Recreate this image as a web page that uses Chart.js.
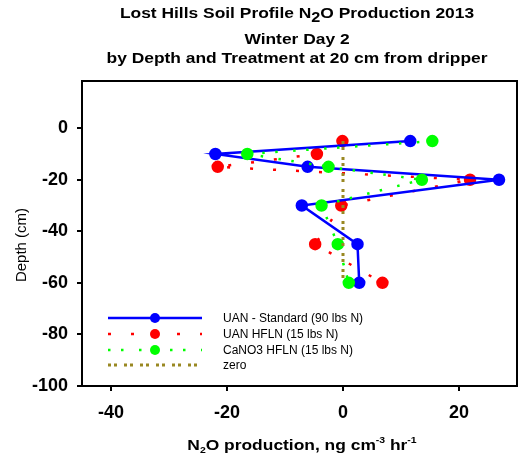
<!DOCTYPE html>
<html>
<head>
<meta charset="utf-8">
<script src="https://cdn.jsdelivr.net/npm/chart.js@4/dist/chart.umd.min.js"></script>
<style>
html, body { margin: 0; padding: 0; background: #fff; }
</style>
</head>
<body>
<canvas id="chartCanvas" width="519" height="460"></canvas>
<script>
// depth of each sampling point (cm)
const depths = [-5, -10, -15, -20, -30, -45, -60];
// N2O production per treatment, ng cm-3 hr-1
const uanStandard = [11.6, -22, -6.1, 26.9, -7.1, 2.5, 2.8];
const uanHfln = [-0.1, -4.5, -21.6, 21.9, -0.3, -4.8, 6.8];
const cano3Hfln = [15.4, -16.5, -2.5, 13.6, -3.7, -0.9, 1.0];
const zeroLine = [0, 0, 0, 0, 0, 0, 0];
const seriesNames = ['UAN - Standard (90 lbs N)', 'UAN HFLN (15 lbs N)', 'CaNO3 HFLN (15 lbs N)', 'zero'];
const xTicks = [-40, -20, 0, 20];
const yTicks = [0, -20, -40, -60, -80, -100];

const FONT = 'Arial, "Liberation Sans", sans-serif';

function toPoints(values) {
    return values.map((v, i) => ({ x: v, y: depths[i] }));
}

const data = {
    datasets: [
        {
            label: seriesNames[0],
            data: toPoints(uanStandard),
            borderColor: 'rgb(0, 0, 255)',
            backgroundColor: 'rgb(0, 0, 255)',
            borderWidth: 2.5,
            pointRadius: 5,
            showLine: true,
            order: 3
        },
        {
            label: seriesNames[1],
            data: toPoints(uanHfln),
            borderColor: 'rgb(255, 0, 0)',
            backgroundColor: 'rgb(255, 0, 0)',
            borderWidth: 2.5,
            borderDash: [3, 20],
            pointRadius: 5,
            showLine: true,
            order: 4
        },
        {
            label: seriesNames[2],
            data: toPoints(cano3Hfln),
            borderColor: 'rgb(0, 255, 0)',
            backgroundColor: 'rgb(0, 255, 0)',
            borderWidth: 2.5,
            borderDash: [2.5, 10.5, 2.5, 15.5],
            pointRadius: 5,
            showLine: true,
            order: 2
        },
        {
            label: seriesNames[3],
            data: toPoints(zeroLine),
            borderColor: 'rgb(153, 136, 34)',
            backgroundColor: 'rgb(153, 136, 34)',
            borderWidth: 3,
            borderDash: [3, 3, 3, 7],
            pointRadius: 0,
            showLine: true,
            order: 1
        }
    ]
};

// draws a line of text made of pieces, some raised or lowered,
// widened by sx like the original picture
function richText(ctx, parts, cx, baseline, sx) {
    let total = 0;
    for (let p of parts) {
        ctx.font = p.font;
        p.w = ctx.measureText(p.t).width;
        total += p.w;
    }
    ctx.save();
    ctx.translate(cx - total * sx / 2, baseline);
    ctx.scale(sx, 1);
    ctx.textAlign = 'left';
    ctx.textBaseline = 'alphabetic';
    let x = 0;
    for (let p of parts) {
        ctx.font = p.font;
        ctx.fillText(p.t, x, p.dy || 0);
        x += p.w;
    }
    ctx.restore();
}

const decorations = {
    id: 'decorations',
    afterDraw(chart) {
        const ctx = chart.ctx;
        const area = chart.chartArea;
        ctx.save();
        ctx.fillStyle = '#000';

        // titles
        const tb = 'bold 15px ' + FONT;
        const cx = 297;
        richText(ctx, [
            { t: 'Lost Hills Soil Profile N', font: tb },
            { t: '2', font: 'bold 14px ' + FONT, dy: 4 },
            { t: 'O Production 2013', font: tb }
        ], cx, 18, 1.16);
        richText(ctx, [{ t: 'Winter Day 2', font: tb }], cx, 44, 1.16);
        richText(ctx, [{ t: 'by Depth and Treatment at 20 cm from dripper', font: tb }], cx, 63, 1.16);

        // x axis title
        const xb = 'bold 15px ' + FONT;
        const xs = 'bold 9px ' + FONT;
        richText(ctx, [
            { t: 'N', font: xb },
            { t: '2', font: xs, dy: 3 },
            { t: 'O production, ng cm', font: xb },
            { t: '-3', font: xs, dy: -7 },
            { t: ' hr', font: xb },
            { t: '-1', font: xs, dy: -7 }
        ], 302, 450, 1.16);

        // y axis title
        ctx.save();
        ctx.translate(26, 245);
        ctx.rotate(-Math.PI / 2);
        ctx.font = '15px ' + FONT;
        ctx.textAlign = 'center';
        ctx.textBaseline = 'alphabetic';
        ctx.fillText('Depth (cm)', 0, 0);
        ctx.restore();

        // frame round the plot
        ctx.strokeStyle = '#000';
        ctx.lineWidth = 2;
        ctx.setLineDash([]);
        ctx.strokeRect(area.left, area.top, area.right - area.left, area.bottom - area.top);

        // legend inside plot
        const rows = [318, 334, 350, 365];
        chart.data.datasets.forEach((d, i) => {
            const y = rows[i];
            ctx.strokeStyle = d.borderColor;
            ctx.lineWidth = d.borderWidth;
            ctx.setLineDash(d.borderDash || []);
            ctx.beginPath();
            ctx.moveTo(108, y);
            ctx.lineTo(202, y);
            ctx.stroke();
            ctx.setLineDash([]);
            if (d.pointRadius > 0) {
                ctx.fillStyle = d.backgroundColor;
                ctx.beginPath();
                ctx.arc(155, y, d.pointRadius, 0, Math.PI * 2);
                ctx.fill();
            }
            ctx.fillStyle = '#000';
            ctx.font = '12px ' + FONT;
            ctx.textAlign = 'left';
            ctx.textBaseline = 'middle';
            ctx.fillText(d.label, 223, y + 1);
        });
        ctx.restore();
    }
};

const tickFont = { family: FONT, size: 18, weight: 'bold' };

const config = {
    type: 'scatter',
    data: data,
    options: {
        responsive: false,
        devicePixelRatio: 1,
        animation: false,
        layout: { autoPadding: false, padding: { top: 81, right: 2, left: 0, bottom: 0 } },
        plugins: {
            legend: { display: false },
            tooltip: { enabled: false },
            title: { display: false }
        },
        scales: {
            x: {
                type: 'linear',
                position: 'bottom',
                min: -45,
                max: 30,
                afterBuildTicks: (s) => { s.ticks = xTicks.map(v => ({ value: v })); },
                afterFit: (s) => { s.height = 74; s.paddingLeft = 0; s.paddingRight = 0; },
                grid: { drawOnChartArea: false, drawTicks: true, tickLength: 5, color: '#000', lineWidth: 2 },
                border: { display: true, color: '#000', width: 2 },
                ticks: { font: tickFont, color: '#000', padding: 11, maxRotation: 0 }
            },
            y: {
                type: 'linear',
                position: 'left',
                min: -100,
                max: 18.3,
                afterBuildTicks: (s) => { s.ticks = yTicks.map(v => ({ value: v })); },
                afterFit: (s) => { s.width = 82; s.paddingTop = 0; s.paddingBottom = 0; },
                grid: { drawOnChartArea: false, drawTicks: true, tickLength: 5, color: '#000', lineWidth: 2 },
                border: { display: true, color: '#000', width: 2 },
                ticks: { font: tickFont, color: '#000', padding: 9 }
            }
        }
    },
    plugins: [decorations]
};

let myChart = new Chart(document.getElementById('chartCanvas'), config);
</script>
</body>
</html>
